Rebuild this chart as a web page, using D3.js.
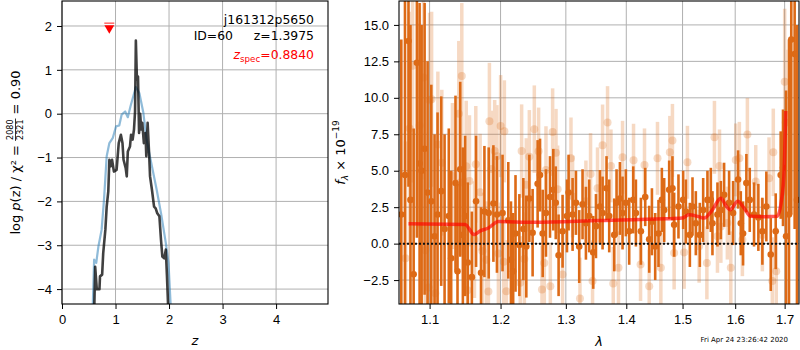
<!DOCTYPE html>
<html>
<head>
<meta charset="utf-8">
<style>
  body { margin: 0; background: #fff; }
  svg { display: block; font-family: 'DejaVu Sans', sans-serif; }
  .axis text { font-size: 13px; fill: #000; }
  .axis .domain { display: none; }
  .axis .tick line { stroke: #000; stroke-width: 1; }
  .grid line { stroke: #b0b0b0; stroke-width: 1; }
</style>
</head>
<body>
<svg width="800" height="350"></svg>
<script src="https://d3js.org/d3.v7.min.js"></script>
<script>
// ---- left panel: p(z) ----
const zTicks = [0, 1, 2, 3, 4];
const lnpTicks = [-4, -3, -2, -1, 0, 1, 2];

const pzZ = [0.60,0.62,0.65,0.70,0.71,0.75,0.77,0.81,0.835,0.865,0.885,0.91,0.935,0.97,1.02,1.06,1.10,1.13,1.15,1.19,1.21,1.23,1.27,1.29,1.32,1.345,1.365,1.38,1.40,1.42,1.44,1.46,1.48,1.50,1.53,1.56,1.575,1.60,1.63,1.645,1.68,1.72,1.75,1.78,1.82,1.85,1.875,1.91,1.94,1.96,1.99];
const pzLnP = [-4.6,-3.49,-4.0,-4.0,-3.71,-3.67,-3.18,-2.65,-2.12,-1.77,-1.05,-1.2,-1.05,-1.32,-1.28,-0.67,-0.48,-0.67,-1.05,-1.24,-1.43,-0.86,-0.75,-0.48,-0.59,-0.36,0.05,1.67,0.78,0.85,-0.44,0.0,-0.36,-0.21,-0.67,-0.44,-0.97,-0.21,-0.97,-1.43,-1.73,-2.12,-2.16,-2.27,-2.34,-2.88,-3.26,-3.3,-3.1,-3.67,-4.6];

const priorZ = [0.57,0.60,0.64,0.68,0.74,0.785,0.835,0.885,0.95,1.01,1.07,1.115,1.18,1.23,1.28,1.38,1.445,1.52,1.58,1.68,1.77,1.86,1.94,1.99,2.04];
const priorLnP = [-4.6,-3.33,-3.4,-3.03,-2.65,-1.96,-0.97,-0.67,-0.55,-0.29,-0.27,-0.02,0.05,-0.08,0.17,0.61,0.47,0.02,-0.59,-1.2,-1.74,-2.34,-2.95,-3.41,-4.6];

const zSpec = 0.884;

// ---- right panel: 1D spectrum ----
const lamTicks = [1.1, 1.2, 1.3, 1.4, 1.5, 1.6, 1.7];
const fluxTicks = [-2.5, 0, 2.5, 5, 7.5, 10, 12.5, 15];

const specWave = [
  1.0625,1.0673,1.0719,1.0745,1.0787,1.0830,1.0866,1.0893,1.0933,1.0973,
  1.1023,1.1067,1.1108,1.1158,1.1204,1.1262,1.1295,1.1355,1.1383,1.1421,
  1.1458,1.1490,1.1527,1.1585,1.1645,1.1716,1.1765,1.1827,1.1895,1.1947,
  1.2029,1.2114,1.2154,1.2187,1.2222,1.2280,1.2340,1.2385,1.2431,1.2481,
  1.2558,1.2595,1.2636,1.2687,1.2750,1.2802,1.2840,1.2885,1.2948,1.3018,
  1.3044,1.3108,1.3162,1.3215,1.3269,1.3324,1.3378,1.3444,1.3489,1.3555,
  1.3599,1.3665,1.3710,1.3795,1.3834,1.3891,1.3936,1.3993,1.4050,1.4120,
  1.4166,1.4253,1.4329,1.4399,1.4447,1.4505,1.4564,1.4624,1.4666,1.4756,
  1.4815,1.4846,1.4925,1.5011,1.5061,1.5135,1.5184,1.5246,1.5321,1.5384,
  1.5465,1.5529,1.5560,1.5656,1.5721,1.5784,1.5881,1.5959,1.6057,1.6110,
  1.6155,1.6221,1.6288,1.6374,1.6461,1.6542,1.6623,1.6713,1.6815,1.6918,
  1.6966,1.7030,1.7091,1.7139,1.7210,1.7259];
const specFlux = [
  2.0,4.7,13.9,3.0,-2.1,12.4,5.5,5.0,6.5,3.5,
  2.9,0.5,2.0,3.6,1.0,1.9,-1.0,4.15,-1.9,5.1,
  0.6,1.9,-1.3,-2.3,2.9,-2.0,2.2,2.1,2.75,2.0,
  2.1,1.6,-1.1,-1.9,0.7,-0.1,1.0,-0.2,3.1,0.75,
  4.1,4.7,0.7,2.1,3.2,3.7,2.8,-0.8,0.85,1.9,
  3.5,2.0,2.8,-0.2,2.7,1.4,1.9,-0.6,1.2,2.55,
  2.1,3.8,1.9,0.6,2.8,3.1,2.1,2.8,0.85,3.0,
  2.1,0.85,3.2,0.3,1.5,-0.2,0.7,3.0,2.3,3.7,
  3.8,1.3,2.55,3.0,2.2,0.6,2.55,1.4,0.6,2.3,
  3.0,3.0,1.4,2.0,2.3,3.35,2.8,2.1,4.4,1.4,
  0.7,4.15,3.0,2.0,1.8,0.85,2.55,-0.75,0.85,4.7,
  5.2,0.5,2.0,14.0,13.0,3.0];
const specErr = [
  12,13,10,12,10,12,11,10,10,9,
  8,7,7,6.5,6.5,6,6,6,6,6,
  6,5.5,5.5,4.5,4.5,4.5,4.5,4.5,4,4,
  4,4,4,4,4,3.5,3.5,3.5,3,3,
  3,2.5,3,3,2.8,2.8,2.5,2.8,2.5,2.5,
  2.6,2.5,2.2,2.5,2.4,2.5,2.5,2.5,2.2,2.5,
  2.5,2.2,2.5,2.5,2.3,2.5,2.5,2.3,2.3,2.3,
  2.3,2.3,2.0,2.3,2.3,2.3,2.3,2.2,2.2,2.0,
  2.2,2.2,2.2,2.0,2.2,2.2,2.0,2.2,2.2,2.2,
  2.0,2.2,2.2,2.2,2.0,2.2,2.2,2.2,2.0,2.2,
  2.2,2.0,2.2,2.2,2.3,2.3,2.4,2.5,2.6,3.0,
  4,10,12,12,12,12];

const rawWave = [
  1.0680,1.0734,1.0773,1.0866,1.0919,1.0942,1.0987,1.1000,1.1027,1.1077,
  1.1112,1.1166,1.1313,1.1401,1.1421,1.1443,1.1505,1.1523,1.1551,1.1622,
  1.1641,1.1703,1.1736,1.1794,1.1822,1.1837,1.1866,1.1914,1.1947,1.1968,
  1.2001,1.2047,1.2056,1.2086,1.2294,1.2314,1.2355,1.2385,1.2431,1.2507,
  1.2573,1.2625,1.2661,1.2687,1.2755,1.2791,1.2844,1.2870,1.2948,1.3082,
  1.3108,1.3227,1.3324,1.3400,1.3433,1.3515,1.3599,1.3682,1.3739,1.3778,
  1.3867,1.3936,1.4125,1.4247,1.4316,1.4399,1.4546,1.4606,1.4768,1.4815,
  1.4846,1.5029,1.5090,1.5308,1.5454,1.5598,1.5656,1.5695,1.5721,1.5847,
  1.5914,1.6011,1.6082,1.6142,1.6241,1.6408,1.6542,1.6678,1.6745,1.6765,
  1.6826,1.7001,1.7023];
const rawFlux = [
  -1.0,7.9,12.2,8.1,11.4,-0.46,-3.0,9.84,9.9,-3.4,
  6.8,5.55,4.64,8.9,4.19,11.5,5.3,-3.2,4.3,0.27,
  5.44,3.53,-0.5,-1.1,-3.28,8.4,5.12,6.35,6.0,-0.68,
  8.06,-1.25,7.7,-3.26,-2.69,6.35,-1.05,4.03,5.96,7.85,
  6.33,-3.14,-1.32,5.05,-2.92,7.65,6.24,3.73,-2.12,5.85,
  3.23,-3.76,2.9,4.78,-2.57,3.8,6.74,8.3,5.33,-2.73,
  -1.66,5.92,5.72,-1.43,5.4,-2.92,5.85,-1.66,6.26,7.08,
  -0.64,-0.6,5.58,-0.18,-1.32,7.29,0.5,5.33,1.18,1.41,
  -1.66,5.74,5.85,0.27,7.49,4.26,0.6,4.49,-2.57,6.26,
  -1.89,11.1,8.3];
const rawErr = [
  8,8,8,7,7,7,6,6,6,5.5,
  5,5,5,5,5,5,4.5,4.5,4.5,4,
  4,4,4,4,4,4,4,3.5,3.5,3.5,
  3.5,3.5,3.5,3.5,3.2,3.2,3.2,3.2,3.2,3,
  3,3,3,3,3,3,3,3,2.8,2.8,
  2.8,2.8,2.8,2.8,2.8,2.8,2.8,2.5,2.5,2.5,
  2.5,2.5,2.5,2.5,2.5,2.5,2.5,2.5,2.5,2.5,
  2.5,2.5,2.5,2.5,2.5,2.5,2.5,2.5,2.5,2.5,
  2.5,2.5,2.5,2.5,2.5,2.5,2.5,2.8,3,3,
  3,5,5];

const modelWave = [1.0719,1.149,1.1617,1.170,1.1822,1.1968,1.2492,1.354,1.4666,1.499,1.512,1.530,1.5402,1.556,1.572,1.582,1.590,1.605,1.6175,1.6308,1.6576,1.6845,1.6935,1.6987,1.7023];
const modelFlux = [1.37,1.32,0.62,0.86,1.07,1.52,1.46,1.58,1.70,1.75,1.98,1.85,1.75,2.32,3.12,2.6,2.32,2.9,2.44,1.87,1.85,1.87,3.0,4.83,9.1];

const specColor = "#dd6a16";

let svg = d3.select("svg");

// ================= left panel =================
let L = { x0: 62, x1: 328, y0: 1, y1: 304 };

let xz = d3.scaleLinear().domain([0, 4.97]).range([L.x0, L.x1]);
let yp = d3.scaleLinear().domain([-4.34, 2.57]).range([L.y1, L.y0]);

svg.append("clipPath").attr("id", "clipL")
  .append("rect").attr("x", L.x0).attr("y", L.y0).attr("width", L.x1 - L.x0).attr("height", L.y1 - L.y0);

let gridL = svg.append("g").attr("class", "grid");
gridL.selectAll(".gx").data(zTicks).join("line")
  .attr("x1", d => xz(d)).attr("x2", d => xz(d)).attr("y1", L.y0).attr("y2", L.y1);
gridL.selectAll(".gy").data(lnpTicks).join("line")
  .attr("x1", L.x0).attr("x2", L.x1).attr("y1", d => yp(d)).attr("y2", d => yp(d));

let minus = v => (v < 0 ? "\u2212" : "") + Math.abs(v);

svg.append("g").attr("class", "axis")
  .attr("transform", `translate(0,${L.y1})`)
  .call(d3.axisBottom(xz).tickValues(zTicks).tickSize(5).tickPadding(6).tickSizeOuter(0).tickFormat(d3.format("d")));
svg.append("g").attr("class", "axis")
  .attr("transform", `translate(${L.x0},0)`)
  .call(d3.axisLeft(yp).tickValues(lnpTicks).tickSize(5).tickPadding(5).tickFormat(minus));

let plotL = svg.append("g").attr("clip-path", "url(#clipL)");

let lineL = d3.line().x(d => xz(d[0])).y(d => yp(d[1]));

plotL.append("path")
  .datum(d3.zip(priorZ, priorLnP))
  .attr("d", lineL)
  .attr("fill", "none").attr("stroke", "#1f77b4").attr("stroke-opacity", 0.5)
  .attr("stroke-width", 2.2).attr("stroke-linejoin", "round");

plotL.append("path")
  .datum(d3.zip(pzZ, pzLnP))
  .attr("d", lineL)
  .attr("fill", "none").attr("stroke", "#000").attr("stroke-opacity", 0.75)
  .attr("stroke-width", 2.6).attr("stroke-linejoin", "round");

// z_spec marker
svg.append("line")
  .attr("x1", xz(zSpec) - 5).attr("x2", xz(zSpec) + 5)
  .attr("y1", yp(1.95) - 5).attr("y2", yp(1.95) - 5)
  .attr("stroke", "red").attr("stroke-opacity", 0.6).attr("stroke-width", 1.5);
svg.append("path")
  .attr("d", d3.symbol(d3.symbolTriangle, 42)())
  .attr("transform", `translate(${xz(zSpec)},${yp(1.95)}) rotate(180)`)
  .attr("fill", "red");

svg.append("rect")
  .attr("x", L.x0).attr("y", L.y0).attr("width", L.x1 - L.x0).attr("height", L.y1 - L.y0)
  .attr("fill", "none").attr("stroke", "#000").attr("stroke-width", 1.1);

// annotations
let ann = svg.append("g").attr("font-size", 12.4).attr("text-anchor", "end");
ann.append("text").attr("x", 314).attr("y", 24).text("j161312p5650");
ann.append("text").attr("x", 233).attr("y", 40).text("ID=60");
ann.append("text").attr("x", 314).attr("y", 40).text("z=1.3975");
let zs = ann.append("text").attr("x", 314).attr("y", 59).attr("fill", "red");
zs.append("tspan").attr("font-style", "italic").text("z");
zs.append("tspan").attr("font-size", 8.7).attr("dy", 3).text("spec");
zs.append("tspan").attr("dy", -3).text("=0.8840");

// axis labels
svg.append("text").attr("x", (L.x0 + L.x1) / 2).attr("y", 345)
  .attr("text-anchor", "middle").attr("font-size", 13).attr("font-style", "italic").text("z");

let yl = svg.append("g").attr("font-size", 13);
let t1 = yl.append("text").attr("x", 0).attr("y", 0);
t1.append("tspan").text("log\u00a0");
t1.append("tspan").attr("font-style", "italic").text("p");
t1.append("tspan").text("(z) / \u03c7\u00b2 =\u00a0");
let w1 = t1.node().getComputedTextLength();
let num = yl.append("text").attr("font-size", 8).attr("y", -7).attr("text-anchor", "middle").text("2080");
let den = yl.append("text").attr("font-size", 8).attr("y", 2.5).attr("text-anchor", "middle").text("2321");
let wf = Math.max(num.node().getComputedTextLength(), den.node().getComputedTextLength()) + 2;
num.attr("x", w1 + wf / 2);
den.attr("x", w1 + wf / 2);
yl.append("line").attr("x1", w1).attr("x2", w1 + wf).attr("y1", -4.5).attr("y2", -4.5)
  .attr("stroke", "#000").attr("stroke-width", 0.8);
let t3 = yl.append("text").attr("x", w1 + wf).attr("y", 0).text("\u00a0=\u00a00.90");
let wAll = w1 + wf + t3.node().getComputedTextLength();
yl.attr("transform", `translate(20,${(L.y0 + L.y1) / 2}) rotate(-90) translate(${-wAll / 2},0)`);

// ================= right panel =================
let R = { x0: 399, x1: 799, y0: 1, y1: 304 };

let xl = d3.scaleLog().domain([1.0595, 1.7302]).range([R.x0, R.x1]);
let yf = d3.scaleLinear().domain([-4.14, 16.64]).range([R.y1, R.y0]);

svg.append("clipPath").attr("id", "clipR")
  .append("rect").attr("x", R.x0).attr("y", R.y0).attr("width", R.x1 - R.x0).attr("height", R.y1 - R.y0);

let gridR = svg.append("g").attr("class", "grid");
gridR.selectAll(".gx").data(lamTicks).join("line")
  .attr("x1", d => xl(d)).attr("x2", d => xl(d)).attr("y1", R.y0).attr("y2", R.y1);
gridR.selectAll(".gy").data(fluxTicks).join("line")
  .attr("x1", R.x0).attr("x2", R.x1).attr("y1", d => yf(d)).attr("y2", d => yf(d));

svg.append("g").attr("class", "axis")
  .attr("transform", `translate(0,${R.y1})`)
  .call(d3.axisBottom(xl).tickValues(lamTicks).tickSize(5).tickPadding(6).tickFormat(d3.format(".1f")));
svg.append("g").attr("class", "axis")
  .attr("transform", `translate(${R.x0},0)`)
  .call(d3.axisLeft(yf).tickValues(fluxTicks).tickSize(5).tickPadding(5)
    .tickFormat(d => (d < 0 ? "\u2212" : "") + Math.abs(d).toFixed(1)));

let plotR = svg.append("g").attr("clip-path", "url(#clipR)");

let raw = d3.zip(rawWave, rawFlux, rawErr);
let spec = d3.zip(specWave, specFlux, specErr);

// faint points underneath
let gRaw = plotR.append("g").attr("opacity", 0.25);
gRaw.selectAll("line").data(raw).join("line")
  .attr("x1", d => xl(d[0])).attr("x2", d => xl(d[0]))
  .attr("y1", d => yf(d[1] - d[2])).attr("y2", d => yf(d[1] + d[2]))
  .attr("stroke", specColor).attr("stroke-width", 3.5);
plotR.append("g").selectAll("circle").data(raw).join("circle")
  .attr("cx", d => xl(d[0])).attr("cy", d => yf(d[1])).attr("r", 4)
  .attr("fill", specColor).attr("fill-opacity", 0.25);

// binned spectrum
plotR.append("g").selectAll("line").data(spec).join("line")
  .attr("x1", d => xl(d[0])).attr("x2", d => xl(d[0]))
  .attr("y1", d => yf(d[1] - d[2])).attr("y2", d => yf(d[1] + d[2]))
  .attr("stroke", specColor).attr("stroke-width", 2.6);
plotR.append("g").selectAll("circle").data(spec).join("circle")
  .attr("cx", d => xl(d[0])).attr("cy", d => yf(d[1])).attr("r", 3.3)
  .attr("fill", specColor);

// model
plotR.append("path")
  .datum(d3.zip(modelWave, modelFlux))
  .attr("d", d3.line().x(d => xl(d[0])).y(d => yf(d[1])).curve(d3.curveMonotoneX))
  .attr("fill", "none").attr("stroke", "red").attr("stroke-opacity", 0.65)
  .attr("stroke-width", 3.5).attr("stroke-linejoin", "round");

// zero line
plotR.append("line")
  .attr("x1", R.x0).attr("x2", R.x1).attr("y1", yf(0)).attr("y2", yf(0))
  .attr("stroke", "#111").attr("stroke-width", 2).attr("stroke-dasharray", "2,2");

svg.append("rect")
  .attr("x", R.x0).attr("y", R.y0).attr("width", R.x1 - R.x0).attr("height", R.y1 - R.y0)
  .attr("fill", "none").attr("stroke", "#000").attr("stroke-width", 1.1);

svg.append("text").attr("x", 599).attr("y", 346)
  .attr("text-anchor", "middle").attr("font-size", 13).attr("font-style", "italic").text("\u03bb");

let fl = svg.append("text").attr("font-size", 13).attr("text-anchor", "middle")
  .attr("transform", `translate(345,${(R.y0 + R.y1) / 2}) rotate(-90)`);
fl.append("tspan").attr("font-style", "italic").text("f");
fl.append("tspan").attr("font-size", 9).attr("font-style", "italic").attr("dy", 3).text("\u03bb");
fl.append("tspan").attr("dy", -3).text("\u00a0\u00d7\u00a010");
fl.append("tspan").attr("font-size", 9).attr("dy", -6).text("\u221219");

svg.append("text").attr("x", 788).attr("y", 342).attr("text-anchor", "end")
  .attr("font-size", 7).text("Fri Apr 24 23:26:42 2020");
</script>
</body>
</html>
